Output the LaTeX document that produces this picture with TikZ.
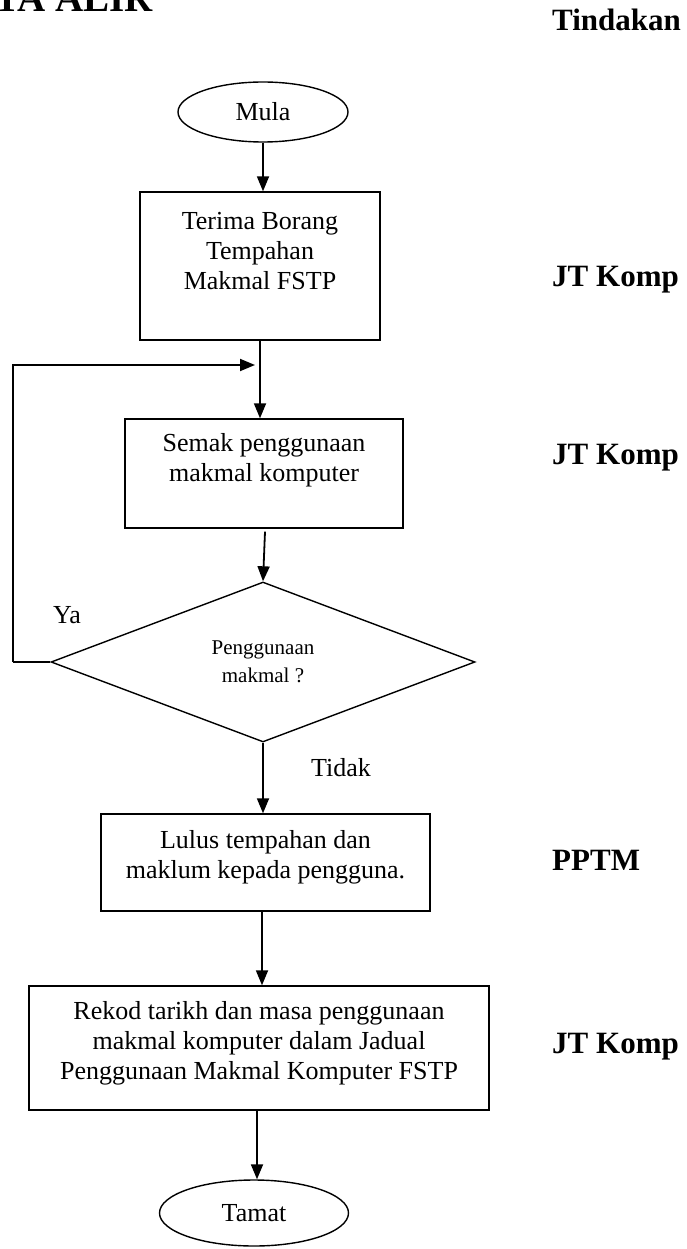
\documentclass[tikz,border=0pt]{standalone}
\usepackage{fontspec}
\setmainfont{Liberation Serif}
\usetikzlibrary{shapes.geometric,arrows.meta,calc}
\begin{document}
\begin{tikzpicture}[x=1pt,y=-1pt,
  box/.style={draw,rectangle,line width=1.4pt,inner sep=0pt},
  txt/.style={font=\fontsize{26}{30}\selectfont,align=center,inner sep=0pt,anchor=north},
  term/.style={draw,ellipse,line width=1.4pt,inner sep=0pt,font=\fontsize{26}{30}\selectfont},
  decision/.style={draw,diamond,line width=1.4pt,inner sep=0pt,align=center,font=\fontsize{21}{28}\selectfont},
  arr/.style={line width=1.8pt,-{Triangle[length=15pt,width=12pt]}},
  line/.style={line width=1.8pt},
  lbl/.style={font=\fontsize{31}{36}\selectfont\bfseries,inner sep=0pt,anchor=west},
  note/.style={font=\fontsize{26}{30}\selectfont,inner sep=0pt}
]
\useasboundingbox (0,0) rectangle (687,1249);
\clip (0,0) rectangle (687,1249);
\fill[white] (0,0) rectangle (687,1249);

\node[anchor=base west,font=\fontsize{39}{44}\selectfont\bfseries,inner sep=0pt] (title) at (-89,12) {CARTA ALIR};

\node[lbl] (tind) at (552,20) {Tindakan};
\node[lbl] (r1) at (552,280) {JT Komp};
\node[lbl] (r2) at (552,458) {JT Komp};
\node[lbl] (r3) at (552,860) {PPTM};
\node[lbl] (r4) at (552,1047) {JT Komp};

\node[term,minimum width=170pt,minimum height=60pt] (mula) at (263,112) {Mula};

\node[box,minimum width=240pt,minimum height=148pt] (b1) at (260,266) {};
\node[txt] (t1) at ($(b1.north)+(0,21)$) {Terima Borang\\Tempahan\\Makmal FSTP};

\node[box,minimum width=278pt,minimum height=109pt] (b2) at (264,473.5) {};
\node[txt] (t2) at ($(b2.north)+(0,15)$) {Semak penggunaan\\makmal komputer};

\node[decision,minimum width=424pt,minimum height=160pt] (d) at (263,662) {Penggunaan\\makmal ?};

\node[box,minimum width=329pt,minimum height=97pt] (b3) at (265.5,862.5) {};
\node[txt] (t3) at ($(b3.north)+(0,17)$) {Lulus tempahan dan\\maklum kepada pengguna.};

\node[box,minimum width=460pt,minimum height=124pt] (b4) at (259,1048) {};
\node[txt] (t4) at ($(b4.north)+(0,16)$) {Rekod tarikh dan masa penggunaan\\makmal komputer dalam Jadual\\Penggunaan Makmal Komputer FSTP};

\node[term,minimum width=189pt,minimum height=66pt] (tamat) at (254,1213) {Tamat};

\node[note] (ya) at (67,615) {Ya};
\node[note] (tidak) at (341,768) {Tidak};

\coordinate (fbend) at (255,365);
\coordinate (fbcorner) at (13,662);
\coordinate (s2) at ($(b2.south)+(1,3)$);
\coordinate (s3) at ($(b3.south)+(-3.5,0)$);
\coordinate (s4) at ($(b4.south)+(-2,0)$);

\draw[arr] (mula.south) -- (mula.south |- b1.north);
\draw[arr] (b1.south) -- (b1.south |- b2.north);
\draw[arr] (s2) -- (d.north);
\draw[arr] (d.south) -- (d.south |- b3.north);
\draw[arr] (s3) -- (s3 |- b4.north);
\draw[arr] (s4) -- (s4 |- tamat.north);
\draw[line] (d.west) -- (fbcorner);
\draw[arr] (fbcorner) |- (fbend);
\end{tikzpicture}
\end{document}
